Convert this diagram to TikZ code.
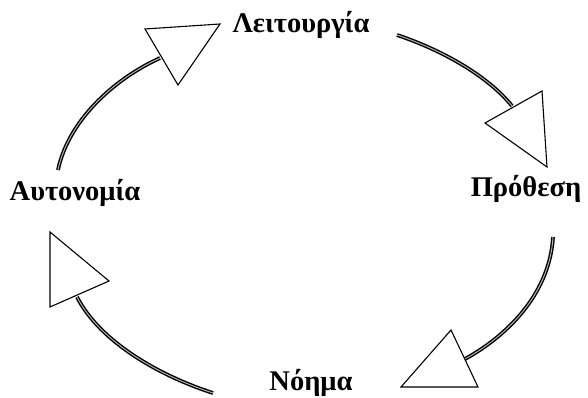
\documentclass[tikz,border=0pt]{standalone}
\usepackage{fontspec}
\setmainfont{Liberation Serif}
\usepackage{tikz}
\usetikzlibrary{positioning, calc}

\begin{document}
\begin{tikzpicture}[x=1pt, y=-1pt,
    label/.style={font=\fontsize{28.5}{32}\selectfont\bfseries, inner sep=0pt},
    arc/.style={line width=1.4pt, double=gray!60, double distance=1pt},
    tri/.style={draw=black, fill=white, line width=1.1pt, line join=miter}]
    \useasboundingbox (0,0) rectangle (588,398);

    % Labels
    \node[label] (leit) at (301,25) {Λειτουργία};
    \node[label] (prot) at (526,189) {Πρόθεση};
    \node[label] (nohm) at (311,383) {Νόημα};
    \node[label] (auto) at (75,193) {Αυτονομία};

    % Arc end points
    \coordinate (a1s) at (58,170);  \coordinate (a1e) at (160,58);
    \coordinate (a2s) at (397,35);  \coordinate (a2e) at (512,106);
    \coordinate (a3s) at (553,237); \coordinate (a3e) at (465,359);
    \coordinate (a4s) at (213,393); \coordinate (a4e) at (77,297);

    % Draw arcs
    \draw[arc] (a1s) .. controls (68,122) and (112,80) .. (a1e);
    \draw[arc] (a2s) .. controls (442,50) and (488,76) .. (a2e);
    \draw[arc] (a3s) .. controls (550,290) and (512,333) .. (a3e);
    \draw[arc] (a4s) .. controls (160,376) and (100,342) .. (a4e);

    % Draw arrow heads
    \draw[tri] (145,29) -- (220,24) -- (178,85) -- cycle;
    \draw[tri] (485,123) -- (542,91) -- (547,167) -- cycle;
    \draw[tri] (401,387) -- (451,330) -- (478,387) -- cycle;
    \draw[tri] (50,232) -- (109,281) -- (50,307) -- cycle;
\end{tikzpicture}
\end{document}
